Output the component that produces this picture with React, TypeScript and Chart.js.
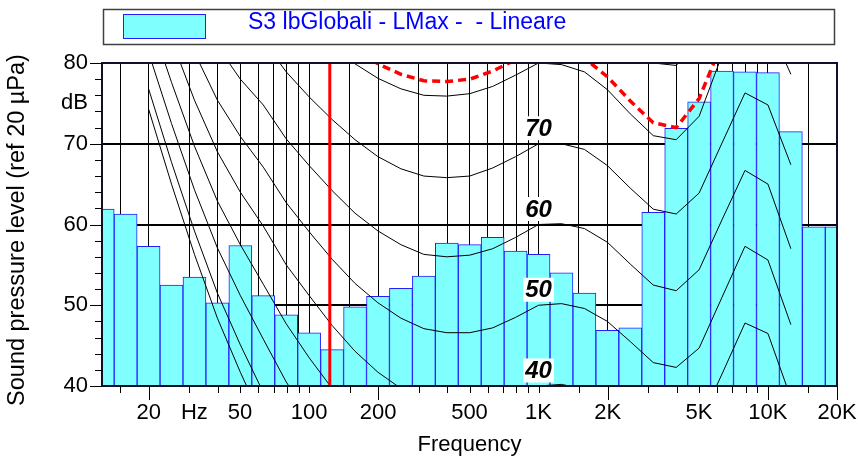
import React, { useEffect, useRef } from "react";
import { Chart, registerables } from "chart.js";

Chart.register(...registerables);

// ---------- data ----------
const BANDS = ["12.5", "16", "20", "25", "31.5", "40", "50", "63", "80", "100", "125", "160", "200", "250", "315", "400", "500", "630", "800", "1K", "1.25K", "1.6K", "2K", "2.5K", "3.15K", "4K", "5K", "6.3K", "8K", "10K", "12.5K", "16K", "20K"];
const LEVELS = [61.9, 61.3, 57.3, 52.5, 53.5, 50.3, 57.4, 51.2, 48.8, 46.6, 44.5, 49.8, 51.1, 52.1, 53.6, 57.7, 57.5, 58.4, 56.7, 56.3, 54.0, 51.5, 46.9, 47.2, 61.5, 71.9, 75.2, 79.0, 78.9, 78.8, 71.5, 59.7, 59.7];

const CONTOUR_BANDS = ["20", "25", "31.5", "40", "50", "63", "80", "100", "125", "160", "200", "250", "315", "400", "500", "630", "800", "1K", "1.25K", "1.6K", "2K", "2.5K", "3.15K", "4K", "5K", "6.3K", "8K", "10K", "12.5K"];
const THRESHOLD = [74.3, 65.0, 56.3, 48.4, 41.7, 35.5, 29.8, 25.1, 20.7, 16.8, 13.8, 11.2, 8.9, 7.2, 6.0, 5.0, 4.4, 4.2, 3.7, 2.6, 1.0, -1.2, -3.6, -3.5, -1.0, 5.5, 12.0, 11.0, 3.0];
const PHON_10 = [76.8, 67.7, 59.2, 51.5, 45.1, 39.2, 33.7, 29.1, 24.8, 21.0, 18.1, 15.6, 13.4, 11.9, 10.9, 10.1, 9.9, 10.0, 9.7, 8.7, 7.2, 5.0, 2.6, 4.3, 6.8, 13.0, 19.3, 18.0, 10.5];
const PHON_20 = [81.3, 72.5, 64.3, 57.1, 51.2, 45.8, 40.5, 36.2, 32.1, 28.5, 25.7, 23.3, 21.4, 20.1, 19.4, 19.1, 19.4, 20.0, 19.9, 19.2, 17.7, 15.4, 13.0, 13.8, 16.3, 22.5, 28.8, 27.5, 20.0];
const PHON_30 = [86.0, 77.6, 69.7, 62.9, 57.5, 52.6, 47.7, 43.5, 39.7, 36.2, 33.6, 31.4, 29.6, 28.6, 28.2, 28.3, 29.0, 30.0, 30.1, 29.5, 28.0, 25.7, 23.2, 23.3, 25.8, 32.0, 38.3, 37.0, 29.5];
const PHON_40 = [91.0, 82.9, 75.4, 69.0, 64.0, 59.8, 55.0, 51.2, 47.5, 44.3, 41.7, 39.7, 38.2, 37.4, 37.3, 37.7, 38.7, 40.0, 40.2, 39.6, 38.1, 35.7, 33.2, 32.8, 35.3, 41.5, 47.8, 46.5, 38.5];
const PHON_50 = [96.2, 88.5, 81.3, 75.4, 70.9, 67.1, 62.7, 59.1, 55.7, 52.7, 50.3, 48.4, 47.1, 46.6, 46.6, 47.2, 48.5, 50.0, 50.2, 49.6, 48.0, 45.5, 42.9, 42.3, 44.7, 51.0, 57.3, 55.6, 47.6];
const PHON_60 = [101.7, 94.4, 87.6, 82.1, 78.0, 74.8, 70.6, 67.3, 64.2, 61.4, 59.2, 57.5, 56.3, 56.0, 56.2, 57.0, 58.4, 60.0, 60.1, 59.5, 57.8, 55.1, 52.5, 51.8, 54.4, 60.6, 66.7, 65.0, 57.0];
const PHON_70 = [107.6, 100.7, 94.3, 89.2, 85.5, 82.8, 78.9, 75.8, 73.0, 70.5, 68.4, 66.9, 66.0, 65.8, 66.0, 67.0, 68.4, 70.0, 70.0, 69.3, 67.3, 64.5, 61.9, 61.3, 63.9, 70.1, 76.3, 74.8, 67.4];
const PHON_80 = [113.7, 107.3, 101.3, 96.6, 93.3, 91.2, 87.4, 84.7, 82.2, 79.9, 78.1, 76.8, 76.0, 75.9, 76.2, 77.1, 78.5, 80.0, 79.8, 78.9, 76.7, 73.7, 71.0, 70.5, 73.4, 81.0, 86.5, 85.0, 78.6];
const PHON_90 = [120.3, 114.4, 108.7, 104.4, 101.5, 99.8, 96.3, 94.0, 91.8, 89.8, 88.1, 87.1, 86.4, 86.4, 86.6, 87.5, 88.7, 90.0, 89.5, 88.4, 85.9, 82.7, 80.0, 79.7, 82.8, 89.5, 95.7, 94.2, 88.0];
const LOUDNESS_CONTOUR = [114.9, 108.6, 102.6, 98.0, 94.8, 92.7, 89.0, 86.4, 83.9, 81.7, 79.9, 78.6, 77.8, 77.7, 78.0, 79.0, 80.4, 81.8, 81.5, 80.6, 78.3, 75.3, 72.6, 72.0, 75.6, 82.5, 88.0, 86.5, 80.4];
const CONTOURS = [THRESHOLD, PHON_10, PHON_20, PHON_30, PHON_40, PHON_50, PHON_60, PHON_70, PHON_80, PHON_90];
const CONTOUR_LABELS = [40, 50, 60, 70];

const MARKER_HZ = 123;
const X_MIN_HZ = 12.5;
const X_MAX_HZ = 20000;
const X_GRID_HZ = [15, 20, 30, 40, 50, 60, 70, 80, 90, 100, 150, 200, 300, 400, 500, 600, 700, 800, 900, 1000, 1500, 2000, 3000, 4000, 5000, 6000, 7000, 8000, 9000, 10000, 15000, 20000];
const X_LONG_TICK_HZ = [20, 200, 2000, 10000, 20000];
const X_LABEL_HZ = [20, 31.6, 50, 100, 200, 500, 1000, 2000, 5000, 10000, 20000];
const X_LABEL_TEXT = ["20", "Hz", "50", "100", "200", "500", "1K", "2K", "5K", "10K", "20K"];
const Y_MIN = 40;
const Y_MAX = 80;
const LEGEND_TEXT = "S3 lbGlobali - LMax -  - Lineare";
const X_TITLE = "Frequency";
const Y_TITLE = "Sound pressure level (ref 20 µPa)";
const Y_UNIT = "dB";

// ---------- helpers ----------
const FONT = "'Liberation Sans', Arial, Helvetica, sans-serif";
const hzToX = (hz: number) => 10 * Math.log10(hz);
const parseHz = (s: string) => (s.endsWith("K") ? parseFloat(s) * 1000 : parseFloat(s));
const bandX = (s: string) => Math.round(hzToX(parseHz(s)));
const near = (a: number, b: number) => Math.abs(a - b) < 1e-6;

const decor = {
  id: "decor",
  beforeDraw(chart: any) {
    const c = chart.ctx;
    c.save();
    c.fillStyle = "#ffffff";
    c.fillRect(0, 0, chart.width, chart.height);
    c.restore();
  },
  afterDatasetsDraw(chart: any) {
    const c = chart.ctx;
    const { left, right, top, bottom } = chart.chartArea;
    const xs = chart.scales.x;
    const ys = chart.scales.y;
    c.save();

    // contour labels
    c.font = `italic bold 24px ${FONT}`;
    c.textAlign = "center";
    c.textBaseline = "middle";
    const lx = xs.getPixelForValue(hzToX(1000));
    CONTOUR_LABELS.forEach((p) => {
      const ly = ys.getPixelForValue(p) - 15.5;
      const w = c.measureText(String(p)).width;
      c.fillStyle = "#ffffff";
      c.fillRect(lx - w / 2 - 2, ly - 12, w + 4, 24);
      c.fillStyle = "#000000";
      c.fillText(String(p), lx, ly + 1);
    });

    // frame
    c.strokeStyle = "#10102a";
    c.lineWidth = 2;
    c.strokeRect(left, top, right - left, bottom - top);

    // x tick marks
    c.strokeStyle = "#000000";
    c.lineWidth = 1;
    X_GRID_HZ.forEach((f) => {
      const px = Math.round(xs.getPixelForValue(hzToX(f))) + 0.5;
      const len = X_LONG_TICK_HZ.includes(f) ? 14 : 7;
      c.beginPath();
      c.moveTo(px, bottom);
      c.lineTo(px, bottom + len);
      c.stroke();
    });
    // y tick marks
    for (let v = Y_MIN; v <= Y_MAX; v += 2) {
      const py = Math.round(ys.getPixelForValue(v)) + 0.5;
      const len = v % 10 === 0 ? 12 : 7;
      c.beginPath();
      c.moveTo(left - len, py);
      c.lineTo(left, py);
      c.stroke();
    }

    // unit label
    c.fillStyle = "#000000";
    c.font = `22px ${FONT}`;
    c.textAlign = "right";
    c.textBaseline = "middle";
    c.fillText(Y_UNIT, 88, ys.getPixelForValue(75));

    // axis titles
    c.textAlign = "center";
    c.fillText(X_TITLE, (left + right) / 2, 445);
    c.save();
    c.font = `23.5px ${FONT}`;
    c.translate(18, 230);
    c.rotate(-Math.PI / 2);
    c.fillText(Y_TITLE, 0, 0);
    c.restore();

    // legend
    c.strokeStyle = "#404040";
    c.lineWidth = 1.5;
    c.strokeRect(103.5, 9.5, 731, 35);
    c.fillStyle = "#80ffff";
    c.fillRect(123, 14.5, 82, 24);
    c.strokeStyle = "#2020ff";
    c.lineWidth = 1;
    c.strokeRect(123.5, 14.5, 82, 24);
    c.fillStyle = "#0000ff";
    c.font = `23px ${FONT}`;
    c.textAlign = "left";
    c.fillText(LEGEND_TEXT, 248, 23);

    c.restore();
  },
};

export default function App() {
  const ref = useRef<HTMLCanvasElement | null>(null);

  useEffect(() => {
    if (!ref.current) return;
    const xMin = hzToX(X_MIN_HZ);
    const xMax = hzToX(X_MAX_HZ);
    const tickValues = [...X_GRID_HZ, 31.6].sort((a, b) => a - b).map((f) => hzToX(f));

    const contourSets = CONTOURS.map((vals) => ({
      type: "line" as const,
      data: CONTOUR_BANDS.map((b, i) => ({ x: bandX(b), y: vals[i] })),
      borderColor: "#000000",
      borderWidth: 1,
      pointRadius: 0,
      tension: 0,
      fill: false,
      order: 5,
    }));

    const chart = new Chart(ref.current, {
      type: "bar",
      data: {
        datasets: [
          {
            type: "bar" as const,
            data: BANDS.map((b, i) => ({ x: bandX(b), y: LEVELS[i] })),
            backgroundColor: "#80ffff",
            borderColor: "#2020ff",
            borderWidth: 1,
            borderSkipped: "start",
            barThickness: "flex",
            barPercentage: 1,
            categoryPercentage: 1,
            order: 10,
          } as any,
          ...contourSets,
          {
            type: "line" as const,
            data: CONTOUR_BANDS.map((b, i) => ({ x: bandX(b), y: LOUDNESS_CONTOUR[i] })),
            borderColor: "#ff0000",
            borderWidth: 3.5,
            borderDash: [8, 5],
            pointRadius: 0,
            tension: 0,
            fill: false,
            order: 1,
          },
          {
            type: "line" as const,
            data: [
              { x: hzToX(MARKER_HZ), y: Y_MIN },
              { x: hzToX(MARKER_HZ), y: Y_MAX },
            ],
            borderColor: "#ff0000",
            borderWidth: 3,
            pointRadius: 0,
            fill: false,
            order: 1,
          },
        ],
      },
      options: {
        responsive: false,
        animation: false,
        devicePixelRatio: 1,
        layout: { padding: { left: 0, top: 63, right: 21, bottom: 0 } },
        plugins: { legend: { display: false }, tooltip: { enabled: false }, title: { display: false } },
        scales: {
          x: {
            type: "linear",
            position: "bottom",
            offset: false,
            min: xMin,
            max: xMax,
            afterBuildTicks: (axis: any) => {
              axis.ticks = tickValues.map((v) => ({ value: v }));
            },
            afterFit: (axis: any) => {
              axis.height = 71;
              axis.paddingLeft = 0;
              axis.paddingRight = 0;
            },
            grid: {
              offset: false,
              color: (ctx: any) => (ctx.tick && near(ctx.tick.value, hzToX(31.6)) ? "rgba(0,0,0,0)" : "#000000"),
              lineWidth: 1,
              drawTicks: false,
            },
            border: { display: false },
            ticks: {
              autoSkip: false,
              maxRotation: 0,
              minRotation: 0,
              padding: 14,
              color: "#000000",
              font: { family: FONT, size: 22 },
              callback: (value: any) => {
                const i = X_LABEL_HZ.findIndex((f) => near(hzToX(f), Number(value)));
                return i >= 0 ? X_LABEL_TEXT[i] : "";
              },
            },
          },
          y: {
            type: "linear",
            min: Y_MIN,
            max: Y_MAX,
            beginAtZero: false,
            afterFit: (axis: any) => {
              axis.width = 102;
              axis.paddingTop = 0;
              axis.paddingBottom = 0;
            },
            grid: { color: "#000000", lineWidth: 2, drawTicks: false },
            border: { display: false },
            ticks: {
              stepSize: 10,
              padding: 14,
              color: "#000000",
              font: { family: FONT, size: 22 },
            },
          },
        },
      } as any,
      plugins: [decor],
    });
    return () => chart.destroy();
  }, []);

  return (
    <div style={{ position: "absolute", left: 0, top: 0, width: 858, height: 457 }}>
      <canvas ref={ref} width={858} height={457} style={{ display: "block" }} />
    </div>
  );
}
